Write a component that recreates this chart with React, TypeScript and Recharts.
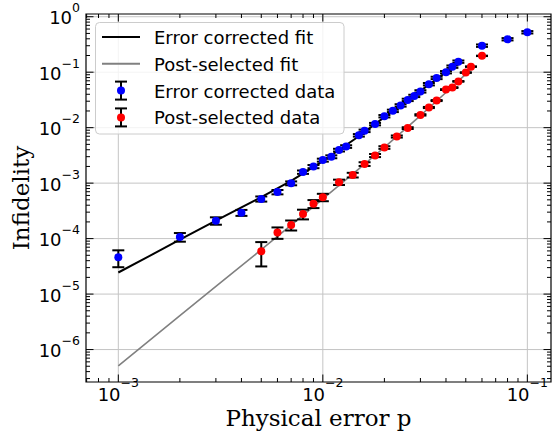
import React from 'react';
import {
  ComposedChart,
  Line,
  Scatter,
  ErrorBar,
  XAxis,
  YAxis,
  CartesianGrid,
  ReferenceArea,
} from 'recharts';

// error corrected data
const BLUE_P = [0.001, 0.002, 0.003, 0.004, 0.005, 0.006, 0.007, 0.008, 0.009, 0.01, 0.011, 0.012, 0.013, 0.015, 0.016, 0.018, 0.02, 0.022, 0.024, 0.026, 0.028, 0.03, 0.033, 0.036, 0.04, 0.043, 0.046, 0.06, 0.08, 0.1];
const BLUE_INF = [4.6e-5, 1.07e-4, 2.1e-4, 2.93e-4, 5.2e-4, 6.9e-4, 9.95e-4, 1.58e-3, 1.99e-3, 2.6e-3, 2.99e-3, 3.94e-3, 4.57e-3, 7.28e-3, 8.77e-3, 0.0116, 0.0161, 0.0201, 0.0252, 0.0317, 0.0374, 0.0451, 0.0608, 0.0789, 0.1, 0.126, 0.155, 0.301, 0.393, 0.525];
const BLUE_ERR = [1.55e-5, 1.9e-5, 3.2e-5, 3.6e-5, 5.5e-5, 6.2e-5, 8.0e-5, 1.1e-4, 1.3e-4, 1.6e-4, 1.8e-4, 2.2e-4, 2.5e-4, 3.8e-4, 4.5e-4, 5.8e-4, 8.0e-4, 1.0e-3, 1.25e-3, 1.55e-3, 1.8e-3, 2.2e-3, 3.0e-3, 3.9e-3, 4.9e-3, 6.2e-3, 7.6e-3, 0.015, 0.019, 0.026];

// post-selected data
const RED_P = [0.005, 0.006, 0.007, 0.008, 0.009, 0.01, 0.012, 0.014, 0.016, 0.018, 0.02, 0.023, 0.026, 0.03, 0.033, 0.036, 0.04, 0.043, 0.046, 0.05, 0.053, 0.06];
const RED_INF = [5.9e-5, 1.29e-4, 1.76e-4, 2.77e-4, 4.25e-4, 5.57e-4, 1.04e-3, 1.4e-3, 2.21e-3, 3.15e-3, 4.39e-3, 6.93e-3, 9.82e-3, 0.017, 0.0231, 0.0308, 0.0486, 0.0528, 0.0683, 0.0984, 0.126, 0.197];
const RED_ERR = [2.75e-5, 3.0e-5, 3.6e-5, 5.5e-5, 7.0e-5, 8.5e-5, 1.15e-4, 1.35e-4, 1.7e-4, 2.0e-4, 2.4e-4, 3.0e-4, 3.6e-4, 4.7e-4, 5.5e-4, 6.3e-4, 8.0e-4, 8.3e-4, 9.5e-4, 1.15e-3, 1.3e-3, 1.6e-3];

// fits
const EC_FIT_P = [0.001, 0.0015, 0.002, 0.003, 0.004, 0.005, 0.007, 0.01, 0.015, 0.02, 0.03, 0.04, 0.046];
const EC_FIT_INF = [2.45e-5, 5.4e-5, 9.6e-5, 2.1e-4, 3.65e-4, 5.6e-4, 1.1e-3, 2.5e-3, 7.0e-3, 0.0155, 0.046, 0.1, 0.15];
const PS_FIT_P = [0.001, 0.002, 0.003, 0.005, 0.007, 0.01, 0.015, 0.02, 0.03, 0.04, 0.05, 0.053];
const PS_FIT_INF = [5.1e-7, 4.1e-6, 1.38e-5, 6.3e-5, 1.75e-4, 5.2e-4, 1.8e-3, 4.4e-3, 0.0165, 0.043, 0.092, 0.115];

const X_DOMAIN = [6.95e-4, 0.1305];
const Y_DOMAIN = [2.6e-7, 1.12];
const X_MAJOR = [0.001, 0.01, 0.1];
const Y_MAJOR = [1e-6, 1e-5, 1e-4, 1e-3, 1e-2, 1e-1, 1];
const MULTS = [1, 2, 3, 4, 5, 6, 7, 8, 9];

const minorTicks = (majors: number[], domain: number[]) =>
  [majors[0] / 10, ...majors]
    .flatMap((d) => MULTS.map((m) => +(d * m).toPrecision(3)))
    .filter((v) => v >= domain[0] && v <= domain[1]);

const X_TICKS = minorTicks(X_MAJOR, X_DOMAIN);
const Y_TICKS = minorTicks(Y_MAJOR, Y_DOMAIN);

// plot frame (chart margins + axis sizes below)
const PLOT_LEFT = 86;
const PLOT_TOP = 14;
const PLOT_W = 465;
const PLOT_H = 368;
const PLOT_BOTTOM = PLOT_TOP + PLOT_H;
const PLOT_RIGHT = PLOT_LEFT + PLOT_W;
const SANS = 'DejaVu Sans';
const SERIF = 'DejaVu Serif';

const pts = (xs: number[], ys: number[], errs?: number[]) =>
  xs.map((x, i) => ({ x, y: ys[i], err: errs ? errs[i] : 0 }));

const blueData = pts(BLUE_P, BLUE_INF, BLUE_ERR);
const redData = pts(RED_P, RED_INF, RED_ERR);
const ecFit = pts(EC_FIT_P, EC_FIT_INF);
const psFit = pts(PS_FIT_P, PS_FIT_INF);

const expOf = (v: number) => {
  const l = Math.log10(v);
  return Math.abs(l - Math.round(l)) < 1e-6 ? Math.round(l) : null;
};

const supText = (e: number) => (e < 0 ? '\u2212' + -e : String(e));

const XTick = (props: any) => {
  const { x, payload } = props;
  const e = expOf(payload.value);
  const len = e !== null ? 7.5 : 4;
  return (
    <g>
      <line x1={x} x2={x} y1={PLOT_BOTTOM} y2={PLOT_BOTTOM - len} stroke="#000" strokeWidth={1} />
      <line x1={x} x2={x} y1={PLOT_TOP} y2={PLOT_TOP + len} stroke="#000" strokeWidth={1} />
      {e !== null && (
        <text x={x} y={PLOT_BOTTOM + 19} textAnchor="middle" fontFamily={SANS} fontSize={18} fill="#000">
          10<tspan dy={-14} fontSize={12.5}>{supText(e)}</tspan>
        </text>
      )}
    </g>
  );
};

const YTick = (props: any) => {
  const { y, payload } = props;
  const e = expOf(payload.value);
  const len = e !== null ? 7.5 : 4;
  return (
    <g>
      <line x1={PLOT_LEFT} x2={PLOT_LEFT + len} y1={y} y2={y} stroke="#000" strokeWidth={1} />
      <line x1={PLOT_RIGHT} x2={PLOT_RIGHT - len} y1={y} y2={y} stroke="#000" strokeWidth={1} />
      {e !== null && (
        <text x={PLOT_LEFT - 6} y={y + 7.5} textAnchor="end" fontFamily={SANS} fontSize={18} fill="#000">
          10<tspan dy={-12} fontSize={12.5}>{supText(e)}</tspan>
        </text>
      )}
    </g>
  );
};

const XLabel = (props: any) => {
  const { x, width } = props.viewBox;
  return (
    <text x={x + width / 2} y={PLOT_BOTTOM + 44} textAnchor="middle" fontFamily={SERIF} fontSize={23} fill="#000">
      Physical error p
    </text>
  );
};

const YLabel = () => (
  <text
    transform={`translate(29, ${PLOT_TOP + PLOT_H / 2}) rotate(-90)`}
    textAnchor="middle"
    fontFamily={SERIF}
    fontSize={23}
    fill="#000"
  >
    Infidelity
  </text>
);

const dot = (color: string) => (props: any) =>
  <circle cx={props.cx} cy={props.cy} r={4} fill={color} />;

function LegendBox() {
  const rows = [
    { label: 'Error corrected fit', kind: 'line', color: '#000' },
    { label: 'Post-selected fit', kind: 'line', color: '#808080' },
    { label: 'Error corrected data', kind: 'err', color: '#0000ff' },
    { label: 'Post-selected data', kind: 'err', color: '#ff0000' },
  ];
  return (
    <svg width={552} height={431} style={{ position: 'absolute', left: 0, top: 0, pointerEvents: 'none' }}>
      <rect x={95.5} y={22.5} width={248.5} height={111.5} rx={4} fill="#fff" fillOpacity={0.8} stroke="#cccccc" />
      {rows.map((r, i) => {
        const cy = 37 + i * 26.8;
        return (
          <g key={r.label}>
            {r.kind === 'line' ? (
              <line x1={102} x2={140} y1={cy} y2={cy} stroke={r.color} strokeWidth={2} />
            ) : (
              <g stroke="#000" strokeWidth={2}>
                <line x1={121} x2={121} y1={cy - 9} y2={cy + 9} />
                <line x1={115} x2={127} y1={cy - 9} y2={cy - 9} />
                <line x1={115} x2={127} y1={cy + 9} y2={cy + 9} />
                <circle cx={121} cy={cy} r={4} fill={r.color} stroke="none" />
              </g>
            )}
            <text x={154} y={cy + 7} fontFamily={SANS} fontSize={18} fill="#000">
              {r.label}
            </text>
          </g>
        );
      })}
    </svg>
  );
}

export default function App() {
  return (
    <div style={{ position: 'absolute', left: 0, top: 0, width: 552, height: 431, background: '#fff' }}>
      <ComposedChart width={552} height={431} margin={{ top: PLOT_TOP, right: 1, bottom: 0, left: 0 }}>
        <CartesianGrid
          stroke="#c4c4c4"
          strokeWidth={1}
          verticalValues={X_MAJOR}
          horizontalValues={Y_MAJOR}
        />
        <XAxis
          dataKey="x"
          type="number"
          scale="log"
          domain={X_DOMAIN}
          allowDataOverflow
          ticks={X_TICKS}
          interval={0}
          tick={XTick}
          tickLine={false}
          axisLine={false}
          height={49}
          label={<XLabel />}
        />
        <YAxis
          dataKey="y"
          type="number"
          scale="log"
          domain={Y_DOMAIN}
          allowDataOverflow
          ticks={Y_TICKS}
          interval={0}
          tick={YTick}
          tickLine={false}
          axisLine={false}
          width={PLOT_LEFT}
          label={<YLabel />}
        />
        <Line data={ecFit} dataKey="y" stroke="#000" strokeWidth={2} dot={false} type="linear" isAnimationActive={false} />
        <Line data={psFit} dataKey="y" stroke="#808080" strokeWidth={1.6} dot={false} type="linear" isAnimationActive={false} />
        <Scatter data={blueData} dataKey="y" fill="#0000ff" shape={dot('#0000ff')} isAnimationActive={false}>
          <ErrorBar dataKey="err" direction="y" width={6} stroke="#000" strokeWidth={2} isAnimationActive={false} />
        </Scatter>
        <Scatter data={redData} dataKey="y" fill="#ff0000" shape={dot('#ff0000')} isAnimationActive={false}>
          <ErrorBar dataKey="err" direction="y" width={6} stroke="#000" strokeWidth={2} isAnimationActive={false} />
        </Scatter>
        <ReferenceArea
          x1={X_DOMAIN[0]}
          x2={X_DOMAIN[1]}
          y1={Y_DOMAIN[0]}
          y2={Y_DOMAIN[1]}
          fill="none"
          fillOpacity={0}
          stroke="#000"
          strokeWidth={1.2}
        />
      </ComposedChart>
      <LegendBox />
    </div>
  );
}
